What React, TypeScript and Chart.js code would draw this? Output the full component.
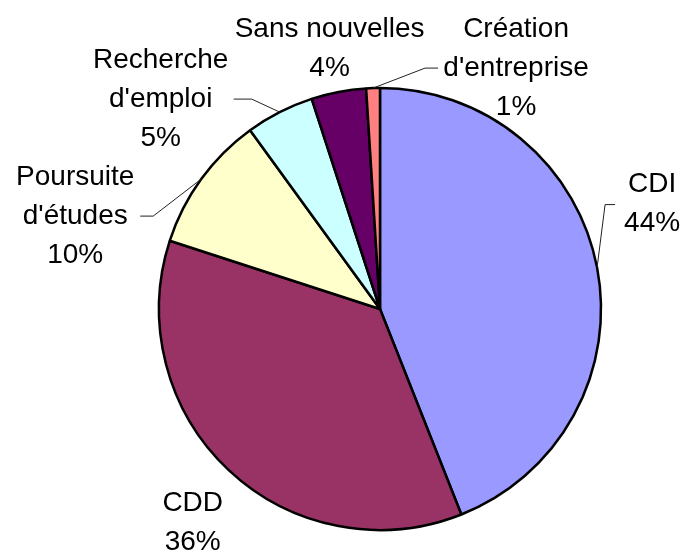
import React, { useEffect, useRef } from "react";
import { Chart, registerables } from "chart.js";

Chart.register(...registerables);

const categories = ["CDI", "CDD", "Poursuite d'études", "Recherche d'emploi", "Sans nouvelles", "Création d'entreprise"];
const labelLines = [["CDI"], ["CDD"], ["Poursuite", "d'études"], ["Recherche", "d'emploi"], ["Sans nouvelles"], ["Création", "d'entreprise"]];
const values = [44, 36, 10, 5, 4, 1];
const colors = ["#9999FF", "#993366", "#FFFFCC", "#CCFFFF", "#660066", "#FF8080"];

// label placement relative to each slice's outer-edge midpoint (dx, dy of first baseline)
const labelOffsets = [
  [55, -76],
  [-36, 41],
  [-126, 6],
  [-119, -44],
  [-9, -55],
  [143, -51],
];
// leader elbow points relative to slice outer-edge midpoint (null = no leader)
const leaders: (number[][] | null)[] = [
  [[18, -63], [8, -63]],
  null,
  [[-61, 37], [-48, 37]],
  [[-46, -13], [-28, -13]],
  null,
  [[65, -20], [52, -20]],
];

const FONT = "28px 'Liberation Sans', Arial, sans-serif";
const LINE_H = 39;

const labelPlugin = {
  id: "excelLabels",
  afterDatasetsDraw(chart: any) {
    const ctx = chart.ctx;
    const meta = chart.getDatasetMeta(0);
    const total = values.reduce((a, b) => a + b, 0);
    ctx.save();
    ctx.font = FONT;
    ctx.fillStyle = "#000";
    ctx.textAlign = "center";
    ctx.textBaseline = "alphabetic";
    meta.data.forEach((arc: any, i: number) => {
      const p = arc.getProps(["x", "y", "startAngle", "endAngle", "outerRadius"], true);
      const mid = (p.startAngle + p.endAngle) / 2;
      const ex = p.x + Math.cos(mid) * p.outerRadius;
      const ey = p.y + Math.sin(mid) * p.outerRadius;
      const lines = [...labelLines[i], Math.round((values[i] / total) * 100) + "%"];
      const [dx, dy] = labelOffsets[i];
      lines.forEach((t, k) => ctx.fillText(t, ex + dx, ey + dy + k * LINE_H));
      const ld = leaders[i];
      if (ld) {
        ctx.beginPath();
        ctx.strokeStyle = "#222";
        ctx.lineWidth = 1;
        ctx.moveTo(ex + ld[0][0], ey + ld[0][1]);
        ctx.lineTo(ex + ld[1][0], ey + ld[1][1]);
        ctx.lineTo(ex, ey);
        ctx.stroke();
      }
    });
    ctx.restore();
  },
};

export default function App() {
  const ref = useRef<HTMLCanvasElement>(null);
  useEffect(() => {
    if (!ref.current) return;
    const chart = new Chart(ref.current, {
      type: "pie",
      data: {
        labels: categories,
        datasets: [
          {
            data: values,
            backgroundColor: colors,
            borderColor: "#000",
            borderWidth: 2.5,
            radius: 221,
          } as any,
        ],
      },
      options: {
        responsive: false,
        animation: false,
        layout: { padding: { left: 77, right: 0, top: 64, bottom: 0 } },
        plugins: { legend: { display: false }, tooltip: { enabled: false } },
      },
      plugins: [labelPlugin],
    });
    return () => chart.destroy();
  }, []);
  return (
    <div style={{ position: "fixed", left: 0, top: 0, width: 683, height: 554, background: "#fff" }}>
      <canvas ref={ref} width={683} height={554} />
    </div>
  );
}
